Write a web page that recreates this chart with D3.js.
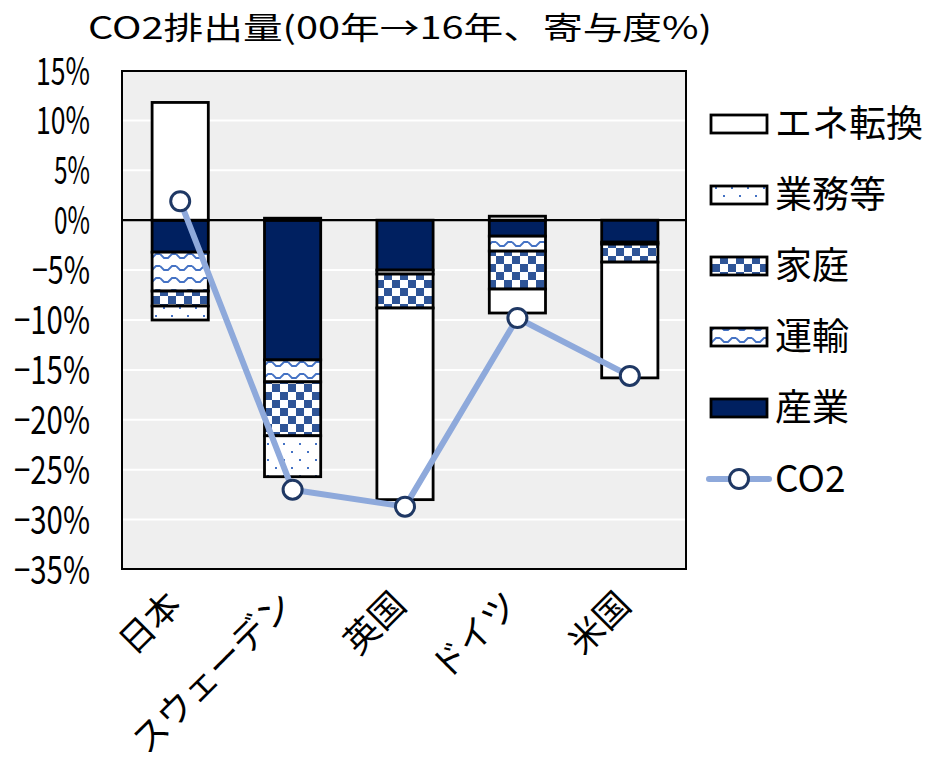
<!DOCTYPE html>
<html>
<head>
<meta charset="utf-8">
<script src="https://cdn.jsdelivr.net/npm/d3@7"></script>
<style>
  html, body { margin: 0; padding: 0; background: #fff; }
  svg { display: block; }
  text { font-family: "Noto Sans CJK JP", "Noto Sans", sans-serif; fill: #000; }
</style>
</head>
<body>
<svg id="chart" width="928" height="762"></svg>
<script>
// Contribution of each sector to the CO2 change, 2000 -> 2016 (%)
const countries = ["日本", "スウェーデン", "英国", "ドイツ", "米国"];
const industry    = [-3.2, -14.0, -5.0, -1.6, -2.2];   // 産業
const transport   = [-3.9, -2.2, -0.4, -1.5, -0.2];    // 運輸
const household   = [-1.5, -5.4, -3.4, -3.8, -1.8];    // 家庭
const commercial  = [-1.4, -4.1, 0.0, 0.4, 0.0];       // 業務等
const energyConv  = [11.8, 0.2, -19.2, -2.4, -11.6];   // エネ転換
const co2Total    = [1.9, -27.0, -28.7, -9.8, -15.6];  // CO2
const yTicks = [15, 10, 5, 0, -5, -10, -15, -20, -25, -30, -35];
const titleText = "CO2排出量(00年→16年、寄与度%)";

// stacking order (closest to zero first)
const seriesKeys = ["産業", "運輸", "家庭", "業務等", "エネ転換"];
const seriesValues = [industry, transport, household, commercial, energyConv];
const legendOrder = ["エネ転換", "業務等", "家庭", "運輸", "産業"];

const rows = countries.map((c, i) => {
  const r = { country: c };
  seriesKeys.forEach((k, j) => { r[k] = seriesValues[j][i]; });
  return r;
});

const svg = d3.select("#chart");
const plot = { left: 122, right: 686, top: 71, bottom: 569 };

const x = d3.scaleBand().domain(countries).range([124, 686]).paddingInner(0.5).paddingOuter(0.25);
const y = d3.scaleLinear().domain([-35, 15]).range([569.5, 70.5]);

// fill patterns
const defs = svg.append("defs");
const pDots = defs.append("pattern").attr("id", "pDots").attr("patternUnits", "userSpaceOnUse")
  .attr("width", 16).attr("height", 16);
pDots.append("rect").attr("width", 16).attr("height", 16).attr("fill", "#fff");
pDots.append("rect").attr("x", 3).attr("y", 3).attr("width", 2).attr("height", 2).attr("fill", "#4472C4");
pDots.append("rect").attr("x", 11).attr("y", 11).attr("width", 2).attr("height", 2).attr("fill", "#4472C4");

const pCheck = defs.append("pattern").attr("id", "pCheck").attr("patternUnits", "userSpaceOnUse")
  .attr("width", 16).attr("height", 16);
pCheck.append("rect").attr("width", 16).attr("height", 16).attr("fill", "#fff");
pCheck.append("rect").attr("x", 0).attr("y", 0).attr("width", 8).attr("height", 8).attr("fill", "#2F5597");
pCheck.append("rect").attr("x", 8).attr("y", 8).attr("width", 8).attr("height", 8).attr("fill", "#2F5597");

const pWave = defs.append("pattern").attr("id", "pWave").attr("patternUnits", "userSpaceOnUse")
  .attr("width", 16).attr("height", 12);
pWave.append("rect").attr("width", 16).attr("height", 12).attr("fill", "#fff");
pWave.append("path").attr("d", "M0,2 L4,6 L8,6 L12,2 L16,2").attr("fill", "none")
  .attr("stroke", "#4472C4").attr("stroke-width", 1.8);

const fills = {
  "エネ転換": "#ffffff",
  "業務等": "url(#pDots)",
  "家庭": "url(#pCheck)",
  "運輸": "url(#pWave)",
  "産業": "#002060"
};

// plot background and gridlines
svg.append("rect").attr("x", plot.left).attr("y", plot.top)
  .attr("width", plot.right - plot.left).attr("height", plot.bottom - plot.top)
  .attr("fill", "#EFEFEF");
svg.append("g").selectAll("line").data(yTicks.filter(t => t !== 15 && t !== -35 && t !== 0)).join("line")
  .attr("x1", plot.left).attr("x2", plot.right)
  .attr("y1", d => y(d)).attr("y2", d => y(d))
  .attr("stroke", "#fff").attr("stroke-width", 2);

// stacked bars
const stack = d3.stack().keys(seriesKeys).offset(d3.stackOffsetDiverging);
const stacked = stack(rows);
svg.append("g").selectAll("g").data(stacked).join("g")
  .attr("fill", d => fills[d.key])
  .selectAll("rect").data(d => d.filter(s => Math.abs(s[1] - s[0]) > 1e-9)).join("rect")
  .attr("x", d => x(d.data.country))
  .attr("width", x.bandwidth())
  .attr("y", d => y(Math.max(d[0], d[1])))
  .attr("height", d => Math.abs(y(d[0]) - y(d[1])))
  .attr("stroke", "#000").attr("stroke-width", 2.8);

// zero line and plot frame
svg.append("line").attr("x1", plot.left).attr("x2", plot.right)
  .attr("y1", y(0)).attr("y2", y(0)).attr("stroke", "#000").attr("stroke-width", 2.2);
svg.append("rect").attr("x", plot.left).attr("y", plot.top)
  .attr("width", plot.right - plot.left).attr("height", plot.bottom - plot.top)
  .attr("fill", "none").attr("stroke", "#000").attr("stroke-width", 2);

// CO2 line with markers
const cx = c => x(c) + x.bandwidth() / 2;
const line = d3.line().x((d, i) => cx(countries[i])).y(d => y(d));
svg.append("path").datum(co2Total).attr("d", line)
  .attr("fill", "none").attr("stroke", "#8EA9DB").attr("stroke-width", 6)
  .attr("stroke-linejoin", "round");
svg.append("g").selectAll("circle").data(co2Total).join("circle")
  .attr("cx", (d, i) => cx(countries[i])).attr("cy", d => y(d)).attr("r", 9.5)
  .attr("fill", "#fff").attr("stroke", "#1F3864").attr("stroke-width", 3);

// y axis labels
const fmt = t => (t < 0 ? "\u2212" : "") + Math.abs(t) + "%";
const tickWidth = s => Array.from(s).reduce((w, ch) => w + (ch === "\u2212" ? 22 : 18), 0);
svg.append("g").selectAll("text").data(yTicks).join("text")
  .attr("x", 90).attr("y", d => y(d)).attr("dy", "0.37em")
  .attr("text-anchor", "end").attr("font-size", 38)
  .attr("textLength", d => tickWidth(fmt(d))).attr("lengthAdjust", "spacingAndGlyphs")
  .text(fmt);

// x axis labels, rotated
svg.append("g").selectAll("text").data(countries).join("text")
  .attr("transform", d => `translate(${cx(d) + 3},${607}) rotate(-45)`)
  .attr("text-anchor", "end").attr("font-size", 35)
  .text(d => d);

// title
svg.append("text").attr("x", 88).attr("y", 39).attr("font-size", 31)
  .attr("textLength", 624).attr("lengthAdjust", "spacingAndGlyphs")
  .text(titleText);

// legend
const legendY = [124, 195, 266, 337, 408];
const lg = svg.append("g");
legendOrder.forEach((k, i) => {
  lg.append("rect").attr("x", 711).attr("y", legendY[i] - 9).attr("width", 56).attr("height", 18)
    .attr("fill", fills[k]).attr("stroke", "#000").attr("stroke-width", 2.8);
  lg.append("text").attr("x", 775).attr("y", legendY[i]).attr("dy", "0.36em")
    .attr("font-size", 37).text(k);
});
const co2Y = 479;
lg.append("line").attr("x1", 709).attr("x2", 769).attr("y1", co2Y).attr("y2", co2Y)
  .attr("stroke", "#8EA9DB").attr("stroke-width", 6).attr("stroke-linecap", "round");
lg.append("circle").attr("cx", 739).attr("cy", co2Y).attr("r", 9.5)
  .attr("fill", "#fff").attr("stroke", "#1F3864").attr("stroke-width", 3);
lg.append("text").attr("x", 775).attr("y", co2Y).attr("dy", "0.36em")
  .attr("font-size", 37).text("CO2");
</script>
</body>
</html>
